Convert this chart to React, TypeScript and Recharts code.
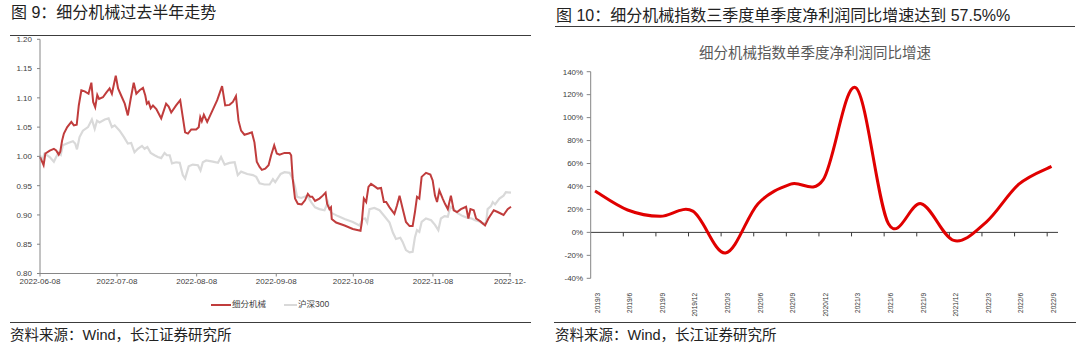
import React from 'react';
import { Line, LineChart, ReferenceLine, XAxis, YAxis } from 'recharts';

const FONT = '"Liberation Sans", Arial, "Noto Sans CJK SC", sans-serif';

// 图 9: calendar days since 2022-06-08 -> relative close
const DATE_TICKS = [0, 30, 61, 92, 122, 153, 183];
const DATE_LABELS = ['2022-06-08', '2022-07-08', '2022-08-08', '2022-09-08', '2022-10-08', '2022-11-08', '2022-12-'];
const PRICE_TICKS = [0.8, 0.85, 0.9, 0.95, 1.0, 1.05, 1.1, 1.15, 1.2];
const SECTOR_NAME = '细分机械';
const INDEX_NAME = '沪深300';
const SECTOR_COLOR = '#C03C3C';
const INDEX_COLOR = '#D9D9D9';

const SECTOR_SERIES: [number, number][] = [
  [0, 0.999], [0.8, 0.991], [1.4, 0.985], [2.1, 1.005], [3.8, 1.01], [5.4, 1.013], [6.3, 1.01], [7.3, 1.003],
  [7.9, 1.008], [8.6, 1.027], [9.3, 1.039], [10.6, 1.05], [12.2, 1.059], [13.2, 1.053], [14.3, 1.054], [15.1, 1.087],
  [16.1, 1.113], [17.4, 1.111], [18.9, 1.107], [20.0, 1.126], [20.7, 1.093], [21.5, 1.084], [22.3, 1.105], [23.0, 1.098],
  [24.5, 1.101], [25.8, 1.109], [27.1, 1.116], [28.0, 1.107], [29.5, 1.138], [30.4, 1.116], [31.6, 1.104], [33.0, 1.09],
  [34.2, 1.07], [35.3, 1.098], [36.5, 1.126], [37.5, 1.107], [38.8, 1.113], [40.1, 1.117], [41.0, 1.104], [41.6, 1.09],
  [42.3, 1.093], [43.1, 1.082], [44.0, 1.087], [45.3, 1.081], [46.6, 1.07], [47.2, 1.065], [49.1, 1.09], [50.1, 1.085],
  [51.1, 1.075], [53.0, 1.087], [54.6, 1.096], [55.6, 1.067], [56.5, 1.041], [57.6, 1.039], [58.9, 1.046], [60.8, 1.046],
  [61.8, 1.05], [62.4, 1.067], [63.0, 1.06], [63.8, 1.071], [65.1, 1.059], [66.9, 1.076], [69.0, 1.096], [70.9, 1.12],
  [72.1, 1.087], [73.8, 1.088], [75.1, 1.093], [76.3, 1.103], [77.3, 1.061], [78.3, 1.044], [79.6, 1.037], [81.2, 1.039],
  [82.5, 1.041], [83.5, 1.024], [84.4, 0.991], [85.5, 0.982], [86.4, 0.977], [87.7, 0.979], [89.0, 0.985], [90.0, 1.002],
  [91.2, 1.019], [92.2, 1.005], [93.3, 1.003], [95.2, 1.006], [97.2, 1.006], [97.8, 1.002], [98.4, 0.962], [99.3, 0.928],
  [100.4, 0.919], [101.9, 0.918], [103.2, 0.925], [104.3, 0.936], [105.2, 0.931], [106.0, 0.931], [107.1, 0.924], [108.8, 0.928],
  [110.1, 0.933], [111.2, 0.938], [111.8, 0.919], [112.7, 0.91], [113.3, 0.913], [113.6, 0.893], [115.3, 0.887], [118.6, 0.882],
  [121.8, 0.876], [124.8, 0.873], [125.3, 0.887], [126.1, 0.928], [127.0, 0.922], [127.9, 0.948], [128.9, 0.953], [130.6, 0.948],
  [131.5, 0.945], [132.8, 0.946], [133.9, 0.922], [134.8, 0.922], [136.1, 0.913], [138.0, 0.902], [139.0, 0.916], [140.0, 0.933],
  [141.2, 0.911], [142.5, 0.888], [143.9, 0.881], [145.1, 0.881], [146.0, 0.905], [146.8, 0.931], [147.7, 0.928], [148.6, 0.965],
  [150.3, 0.972], [152.0, 0.969], [152.9, 0.959], [153.8, 0.933], [154.6, 0.922], [155.5, 0.942], [156.8, 0.928], [157.7, 0.919],
  [158.8, 0.91], [160.0, 0.933], [161.1, 0.908], [162.4, 0.905], [163.9, 0.91], [165.9, 0.914], [166.8, 0.894], [167.6, 0.91],
  [168.9, 0.908], [169.8, 0.894], [171.5, 0.889], [173.3, 0.882], [174.6, 0.894], [176.7, 0.908], [178.2, 0.905], [180.5, 0.9],
  [182.1, 0.91], [183.4, 0.914],
];

const HS300_SERIES: [number, number][] = [
  [0, 1.002], [0.8, 0.993], [1.8, 1.005], [3.8, 0.999], [5.4, 0.991], [6.3, 0.999], [7.3, 1.007], [8.1, 1.003],
  [8.9, 1.019], [10.9, 1.023], [12.8, 1.026], [13.7, 1.022], [14.4, 1.012], [15.4, 1.033], [16.7, 1.044], [18.7, 1.05],
  [20.2, 1.063], [21.3, 1.047], [22.2, 1.061], [23.2, 1.058], [25.2, 1.063], [26.7, 1.065], [28.0, 1.05], [29.1, 1.053],
  [31.0, 1.044], [32.7, 1.033], [34.2, 1.022], [35.5, 1.023], [36.8, 1.007], [38.1, 1.013], [39.7, 1.018], [40.7, 1.013],
  [41.8, 1.016], [43.1, 1.006], [44.6, 1.002], [45.9, 0.999], [47.2, 0.997], [48.5, 1.006], [49.4, 1.002], [50.5, 1.002],
  [51.4, 0.988], [53.0, 0.99], [54.4, 0.989], [55.6, 0.968], [56.5, 0.962], [57.9, 0.983], [59.5, 0.986], [61.5, 0.985],
  [62.5, 0.976], [63.4, 0.99], [64.7, 0.993], [67.3, 0.991], [69.3, 0.989], [70.5, 0.999], [71.9, 0.986], [73.8, 0.989],
  [75.8, 0.99], [77.0, 0.968], [78.3, 0.974], [80.7, 0.97], [82.9, 0.968], [84.2, 0.965], [85.5, 0.954], [87.4, 0.952],
  [89.4, 0.952], [90.7, 0.961], [91.6, 0.956], [93.7, 0.97], [95.2, 0.973], [97.2, 0.972], [98.4, 0.962], [99.3, 0.948],
  [100.1, 0.931], [101.7, 0.929], [103.0, 0.931], [104.0, 0.933], [105.6, 0.922], [107.1, 0.913], [108.8, 0.91], [110.8, 0.908],
  [112.1, 0.922], [113.3, 0.904], [116.0, 0.898], [118.6, 0.893], [121.8, 0.888], [124.4, 0.882], [125.7, 0.893], [126.6, 0.894],
  [127.4, 0.887], [128.3, 0.91], [130.2, 0.912], [132.2, 0.908], [133.9, 0.899], [136.1, 0.887], [137.4, 0.87], [138.6, 0.859],
  [140.3, 0.861], [141.2, 0.854], [142.5, 0.84], [143.9, 0.836], [145.1, 0.837], [146.0, 0.862], [146.8, 0.874], [147.7, 0.871],
  [148.6, 0.888], [150.3, 0.894], [152.3, 0.891], [153.8, 0.883], [155.1, 0.874], [156.1, 0.894], [157.5, 0.898], [158.8, 0.897],
  [159.8, 0.914], [161.1, 0.91], [162.6, 0.903], [164.6, 0.898], [166.5, 0.895], [168.1, 0.894], [169.4, 0.891], [171.1, 0.889],
  [172.4, 0.885], [173.7, 0.887], [174.3, 0.91], [175.6, 0.915], [176.3, 0.922], [177.2, 0.918], [178.9, 0.928], [180.5, 0.933],
  [181.4, 0.939], [183.4, 0.938],
];

// 图 10: quarterly YoY growth of single-quarter net profit (%)
const QUARTERS = ['2019/3', '2019/6', '2019/9', '2019/12', '2020/3', '2020/6', '2020/9', '2020/12', '2021/3', '2021/6', '2021/9', '2021/12', '2022/3', '2022/6', '2022/9'];
const PROFIT_GROWTH = [36, 19.5, 14, 18.5, -18, 25, 42, 46, 126, 7.5, 25, -7, 9, 42, 57.5];
const GROWTH_TICKS = [-40, -20, 0, 20, 40, 60, 80, 100, 120, 140];

// Excel-like smoothed line (uniform Catmull-Rom as cubic bezier)
function excelSmooth(context: any) {
  let pts: [number, number][] = [];
  return {
    areaStart() {},
    areaEnd() {},
    lineStart() {
      pts = [];
    },
    point(x: number, y: number) {
      pts.push([x, y]);
    },
    lineEnd() {
      if (!pts.length) return;
      context.moveTo(pts[0][0], pts[0][1]);
      for (let i = 0; i < pts.length - 1; i++) {
        const p0 = pts[i - 1] || pts[i];
        const p1 = pts[i];
        const p2 = pts[i + 1];
        const p3 = pts[i + 2] || p2;
        context.bezierCurveTo(
          p1[0] + (p2[0] - p0[0]) / 6,
          p1[1] + (p2[1] - p0[1]) / 6,
          p2[0] - (p3[0] - p1[0]) / 6,
          p2[1] - (p3[1] - p1[1]) / 6,
          p2[0],
          p2[1],
        );
      }
    },
  };
}

const axisTick = { fontSize: 8, fill: '#404040', fontFamily: FONT };

function TrendChart() {
  const sector = SECTOR_SERIES.map(([day, value]) => ({ day, value }));
  const hs300 = HS300_SERIES.map(([day, value]) => ({ day, value }));
  return (
    <div style={{ position: 'absolute', left: 0, top: 0, width: 540, height: 295 }}>
      <LineChart width={540} height={295} margin={{ top: 39.3, right: 29, bottom: 0, left: 10 }}>
        <XAxis
          type="number"
          dataKey="day"
          domain={[0, 183.4]}
          ticks={DATE_TICKS}
          interval={0}
          tickFormatter={(v) => DATE_LABELS[DATE_TICKS.indexOf(v)]}
          height={21.5}
          tick={axisTick}
          tickSize={3}
          tickMargin={2}
          stroke="#868686"
        />
        <YAxis
          type="number"
          domain={[0.8, 1.2]}
          ticks={PRICE_TICKS}
          interval={0}
          tickFormatter={(v) => v.toFixed(2)}
          width={30}
          tick={axisTick}
          tickSize={3}
          tickMargin={5}
          stroke="#868686"
        />
        <Line data={hs300} dataKey="value" type="linear" stroke={INDEX_COLOR} strokeWidth={2.2} dot={false} isAnimationActive={false} />
        <Line data={sector} dataKey="value" type="linear" stroke={SECTOR_COLOR} strokeWidth={2} dot={false} isAnimationActive={false} />
      </LineChart>
    </div>
  );
}

function QuarterTick({ x, y, payload }: any) {
  return (
    <text
      transform={`translate(${x + 4.5},${y + 14.7}) rotate(-90)`}
      textAnchor="end"
      fontSize={6.5}
      fill="#333"
      fontFamily={FONT}
    >
      {QUARTERS[payload.value]}
    </text>
  );
}

function ProfitChart() {
  const data = QUARTERS.map((q, i) => ({ idx: i, quarter: q, growth: PROFIT_GROWTH[i] }));
  const tickIdx = QUARTERS.map((_, i) => i);
  return (
    <div style={{ position: 'absolute', left: 540, top: 0 }}>
      <LineChart width={540} height={320} data={data} margin={{ top: 71.7, right: 22, bottom: 0, left: 10.7 }}>
        <XAxis
          type="number"
          dataKey="idx"
          domain={[-0.132, 14.2]}
          ticks={tickIdx}
          interval={0}
          axisLine={false}
          tickLine={false}
          tickSize={0}
          tickMargin={0}
          height={41.7}
          tick={<QuarterTick />}
        />
        <YAxis
          type="number"
          domain={[-40, 140]}
          ticks={GROWTH_TICKS}
          interval={0}
          tickFormatter={(v) => `${v}%`}
          width={40}
          tick={axisTick}
          tickSize={4}
          tickMargin={3.5}
          stroke="#868686"
        />
        <ReferenceLine y={0} stroke="#3a3a3a" strokeWidth={1} />
        {tickIdx.slice(1).map((i) => (
          <ReferenceLine
            key={i}
            segment={[
              { x: i - 0.132, y: 0 },
              { x: i - 0.132, y: -3.5 },
            ]}
            stroke="#3a3a3a"
            strokeWidth={1}
          />
        ))}
        <Line dataKey="growth" type={excelSmooth as any} stroke="#E00000" strokeWidth={3} dot={false} isAnimationActive={false} />
      </LineChart>
    </div>
  );
}

const textBase: React.CSSProperties = { position: 'absolute', fontFamily: FONT, whiteSpace: 'nowrap' };

export default function App() {
  return (
    <div style={{ position: 'absolute', left: 0, top: 0, width: 1080, height: 357, background: '#fff', overflow: 'hidden' }}>
      <div style={{ ...textBase, left: 11, top: 5, fontSize: 16, lineHeight: '16px', color: '#222' }}>图 9：细分机械过去半年走势</div>
      <div style={{ position: 'absolute', left: 10, top: 35, width: 521, height: 1, background: '#3c3c3c' }} />
      <div style={{ ...textBase, left: 556, top: 8, fontSize: 16, lineHeight: '16px', color: '#222' }}>
        图 10：细分机械指数三季度单季度净利润同比增速达到 57.5%%
      </div>
      <div style={{ position: 'absolute', left: 555, top: 26, width: 520, height: 1, background: '#3c3c3c' }} />

      <TrendChart />
      <div
        style={{
          position: 'absolute',
          left: 211,
          top: 299,
          display: 'flex',
          alignItems: 'center',
          fontFamily: FONT,
          fontSize: 8.5,
          lineHeight: '11px',
          color: '#404040',
        }}
      >
        <span style={{ width: 20, height: 2, background: SECTOR_COLOR }} />
        <span style={{ marginLeft: 1 }}>{SECTOR_NAME}</span>
        <span style={{ width: 13, height: 2, background: INDEX_COLOR, marginLeft: 18 }} />
        <span style={{ marginLeft: 1 }}>{INDEX_NAME}</span>
      </div>

      <div style={{ ...textBase, left: 690, width: 250, top: 45.5, textAlign: 'center', fontSize: 14.5, lineHeight: '15px', color: '#595959' }}>
        细分机械指数单季度净利润同比增速
      </div>
      <ProfitChart />

      <div style={{ position: 'absolute', left: 10, top: 322, width: 521, height: 1, background: '#3c3c3c' }} />
      <div style={{ position: 'absolute', left: 554, top: 322, width: 522, height: 1, background: '#3c3c3c' }} />
      <div style={{ ...textBase, left: 10, top: 327.5, fontSize: 14.5, lineHeight: '15px', color: '#222' }}>资料来源：Wind，长江证券研究所</div>
      <div style={{ ...textBase, left: 555, top: 327.5, fontSize: 14.5, lineHeight: '15px', color: '#222' }}>资料来源：Wind，长江证券研究所</div>
    </div>
  );
}
